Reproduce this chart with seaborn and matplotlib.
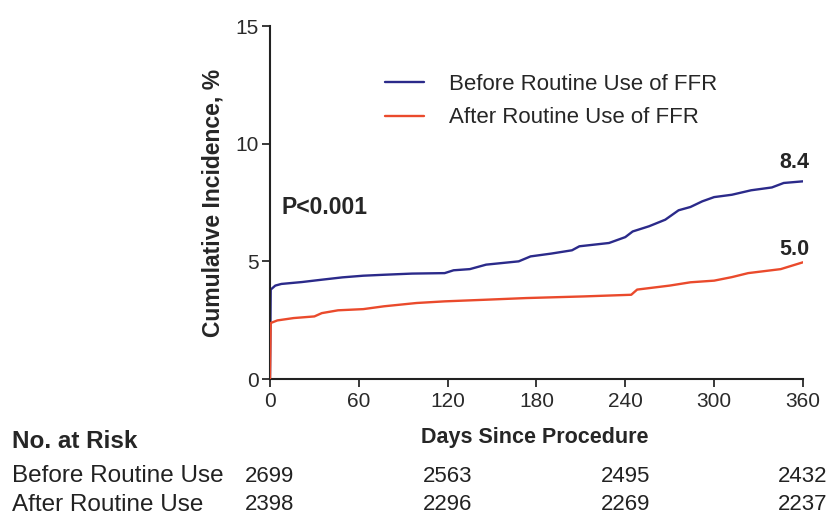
import pandas as pd
import numpy as np
import matplotlib
matplotlib.use('Agg')
import matplotlib.pyplot as plt
import matplotlib.transforms as mtransforms
import seaborn as sns

# values (days, cumulative incidence %)
before_days = [0, 0.5, 3.6, 7.7, 21.5, 35, 49, 63, 77, 96, 118, 124, 135, 146, 168, 176,
               190, 204, 209, 229, 240, 245, 256, 267, 276, 284, 292, 300, 312, 325, 339,
               347, 360]
before_inc = [0, 3.80, 3.97, 4.04, 4.12, 4.22, 4.32, 4.39, 4.43, 4.48, 4.50, 4.62, 4.67,
              4.86, 5.00, 5.21, 5.33, 5.47, 5.64, 5.78, 6.03, 6.27, 6.49, 6.77, 7.17, 7.31,
              7.55, 7.73, 7.83, 8.02, 8.14, 8.33, 8.40]
after_days = [0, 0.5, 5, 16, 30, 35, 46, 63, 77, 99, 118, 146, 173, 212, 244, 248, 270,
              284, 300, 312, 323, 345, 360]
after_inc = [0, 2.38, 2.49, 2.59, 2.66, 2.80, 2.92, 2.97, 3.09, 3.23, 3.30, 3.37, 3.44,
             3.51, 3.58, 3.80, 3.97, 4.11, 4.18, 4.33, 4.50, 4.67, 4.96]

group_names = ['Before Routine Use of FFR', 'After Routine Use of FFR']
group_colors = ['#2b2a8a', '#ea4a2c']
end_labels = ['8.4', '5.0']

risk_days = [0, 120, 240, 360]
risk_rows = ['Before Routine Use', 'After Routine Use']
risk_before = [2699, 2563, 2495, 2432]
risk_after = [2398, 2296, 2269, 2237]

x_ticks = [0, 60, 120, 180, 240, 300, 360]
y_ticks = [0, 5, 10, 15]

df = pd.concat([
    pd.DataFrame({'day': before_days, 'inc': before_inc, 'group': group_names[0]}),
    pd.DataFrame({'day': after_days, 'inc': after_inc, 'group': group_names[1]}),
])

sns.set_style('ticks')
plt.rcParams['font.family'] = ['Liberation Sans', 'DejaVu Sans']

fig = plt.figure(figsize=(8.4, 5.18), dpi=100)
ax = fig.add_axes([0.3214, 0.2683, 0.6345, 0.6815])

sns.lineplot(data=df, x='day', y='inc', hue='group', palette=group_colors,
             hue_order=group_names, estimator=None, sort=False,
             linewidth=1.7, ax=ax)
# red curve sits on top at day 0, as in the original
ax.lines[1].set_zorder(3)

ax.set_xlim(0, 360)
ax.set_ylim(0, 15)
ax.set_xticks(x_ticks)
ax.set_yticks(y_ticks)
ax.tick_params(axis='both', labelsize=15, colors='#2a2a2a', length=6, width=1.3,
               direction='out')
ax.tick_params(axis='x', pad=3)
ax.tick_params(axis='y', pad=2)
for s in ['top', 'right']:
    ax.spines[s].set_visible(False)
for s in ['left', 'bottom']:
    ax.spines[s].set_linewidth(1.5)
    ax.spines[s].set_color('#222222')

ax.set_xlabel('')
ax.set_ylabel('Cumulative Incidence, %', fontsize=16.5, fontweight='bold', labelpad=8)

leg = ax.legend(loc='upper left', bbox_to_anchor=(0.178, 0.92), frameon=False,
                fontsize=16, handlelength=1.75, handletextpad=1.15, labelspacing=0.55)

ax.text(37, 7.3, 'P<0.001', fontsize=16.5, fontweight='bold', ha='center', va='center')
ax.text(354, before_inc[-1] + 0.8, end_labels[0], fontsize=15.5, fontweight='bold',
        ha='center', va='center')
ax.text(354, after_inc[-1] + 0.55, end_labels[1], fontsize=15.5, fontweight='bold',
        ha='center', va='center')

# risk table below the plot
fig.text(535 / 840, 1 - 438 / 518, 'Days Since Procedure', fontsize=15.5,
         fontweight='bold', ha='center', va='center')
fig.text(12 / 840, 1 - 441 / 518, 'No. at Risk', fontsize=17.5, fontweight='bold',
         ha='left', va='center')
trans = mtransforms.blended_transform_factory(ax.transData, fig.transFigure)
for row_label, counts, ypx in zip(risk_rows, [risk_before, risk_after], [476, 505]):
    y = 1 - ypx / 518
    fig.text(12 / 840, y, row_label, fontsize=17.5, ha='left', va='center', color='#222222')
    for d, c in zip(risk_days, counts):
        ax.text(d, y, str(c), transform=trans, fontsize=16, ha='center', va='center',
                color='#222222', clip_on=False)

fig.savefig('out.png', dpi=100)
